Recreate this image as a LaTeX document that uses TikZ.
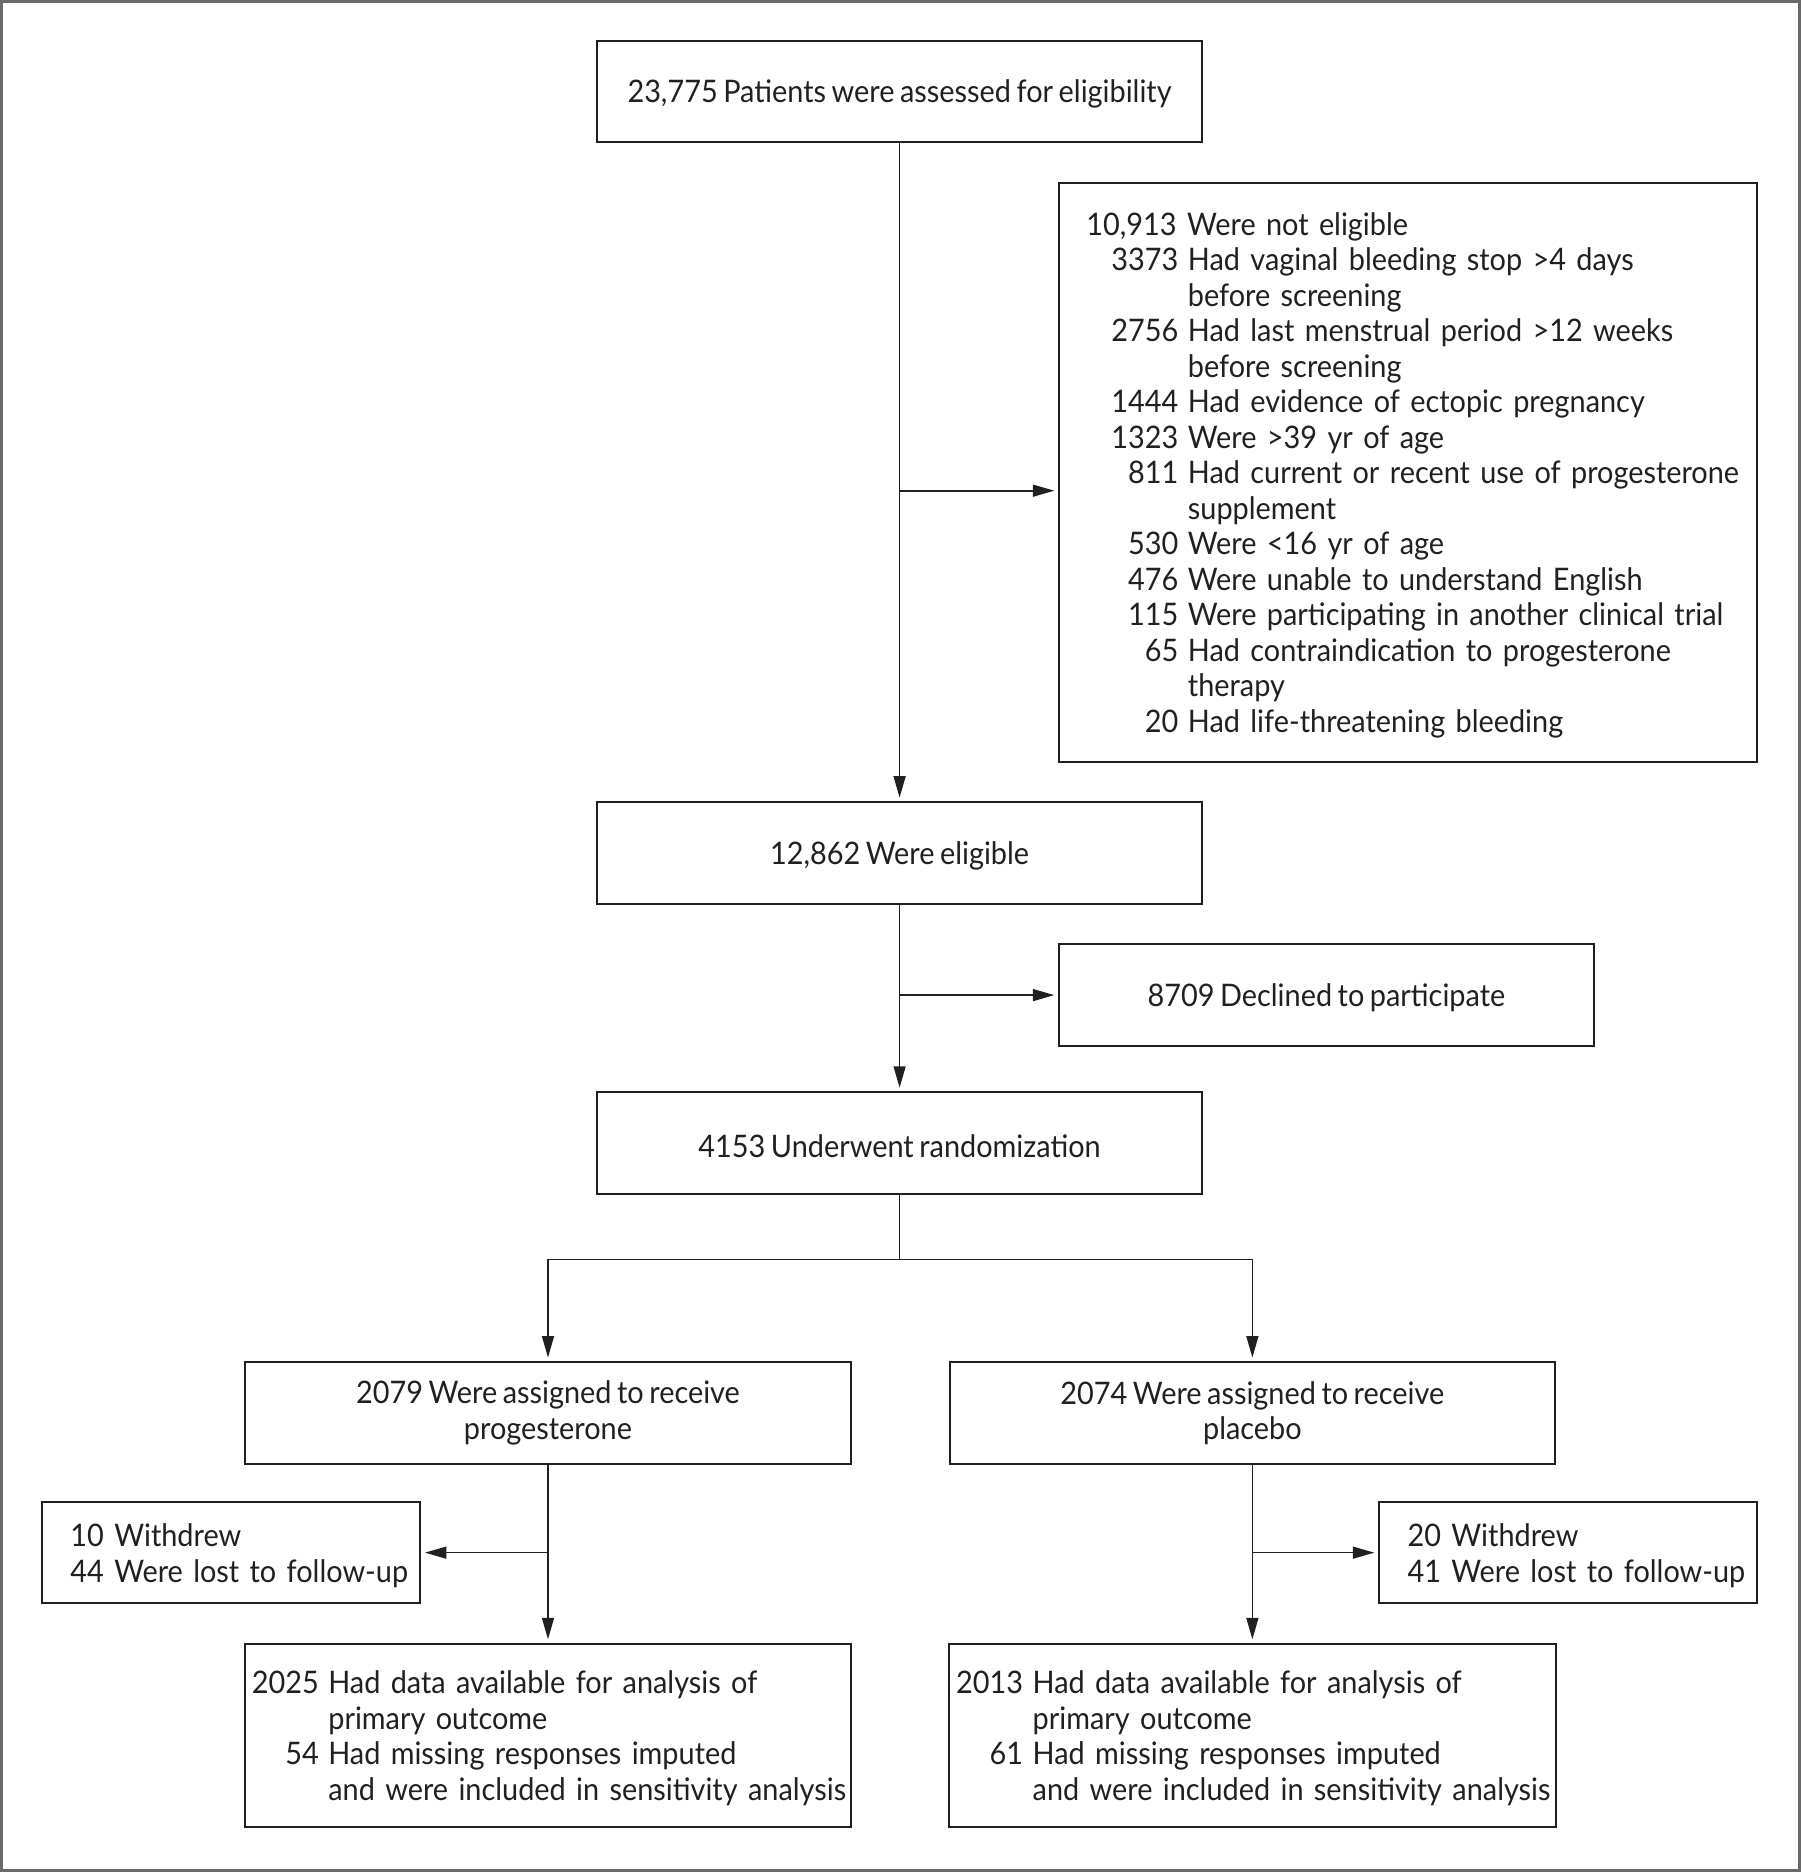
\documentclass[tikz,border=0pt]{standalone}
\usepackage{fontspec}
\setmainfont{Lato}[FakeStretch=0.93,WordSpace=0.75]
\usetikzlibrary{arrows.meta}
\newcommand{\nitem}[2]{\mbox{\makebox[38.5pt][r]{#1}\hspace{4pt}#2}}
\newcommand{\ncont}[1]{\mbox{\hspace*{42.5pt}#1}}
\newcommand{\bitem}[2]{\mbox{\makebox[26pt][r]{#1}\hspace{4pt}#2}}
\newcommand{\bcont}[1]{\mbox{\hspace*{30pt}#1}}
\definecolor{ink}{HTML}{231F20}
\definecolor{framegray}{HTML}{6A6A6A}
\begin{document}
\begin{tikzpicture}[x=0.5pt,y=-0.5pt,
  box/.style={draw=ink, line width=0.9pt, text=ink, font=\fontsize{13}{14.86}\selectfont, inner sep=0pt,
    execute at begin node={\rule{0pt}{12pt}}},
  cbox/.style={box, align=center, minimum width=253.5pt, minimum height=42.5pt},
  lbox/.style={box, align=left},
  ln/.style={draw=ink, line width=0.7pt},
  arr/.style={ln, -{Triangle[length=9pt,width=5pt]}, shorten >=1.5pt}]
\useasboundingbox (0,0) rectangle (1508,1568);
\draw[framegray, line width=2.4pt] (0,0) rectangle (1508,1568);

\node[cbox] (assess) at (753.5,76.5) {23,775 Patients were assessed for eligibility};
\node[lbox, text width=269.5pt, inner xsep=11.5pt, minimum height=242.5pt] (ne) at (1179.5,395.5) {%
\mbox{10,913 Were not eligible}\\
\nitem{3373}{Had vaginal bleeding stop >4 days}\\
\ncont{before screening}\\
\nitem{2756}{Had last menstrual period >12 weeks}\\
\ncont{before screening}\\
\nitem{1444}{Had evidence of ectopic pregnancy}\\
\nitem{1323}{Were >39 yr of age}\\
\nitem{811}{Had current or recent use of progesterone}\\
\ncont{supplement}\\
\nitem{530}{Were <16 yr of age}\\
\nitem{476}{Were unable to understand English}\\
\nitem{115}{Were participating in another clinical trial}\\
\nitem{65}{Had contraindication to progesterone}\\
\ncont{therapy}\\
\nitem{20}{Had life-threatening bleeding}};
\node[cbox] (elig) at (753.5,714.5) {12,862 Were eligible};
\node[cbox, minimum width=224pt] (decl) at (1111,833.5) {8709 Declined to participate};
\node[cbox] (rand) at (753.5,957.5) {4153 Underwent randomization};
\node[cbox] (prog) at (459,1183.5) {2079 Were assigned to receive\\progesterone};
\node[cbox] (plac) at (1049,1183.5) {2074 Were assigned to receive\\placebo};
\node[lbox, text width=134.5pt, inner xsep=12pt, minimum height=42.5pt] (wl) at (193.5,1300.5) {%
\mbox{10 Withdrew}\\\mbox{44 Were lost to follow-up}};
\node[lbox, text width=134.5pt, inner xsep=12pt, minimum height=42.5pt] (wr) at (1313.5,1300.5) {%
\mbox{20 Withdrew}\\\mbox{41 Were lost to follow-up}};
\node[lbox, text width=244pt, inner xsep=5pt, minimum height=76.5pt] (pd) at (459,1453.5) {%
\bitem{2025}{Had data available for analysis of}\\
\bcont{primary outcome}\\
\bitem{54}{Had missing responses imputed}\\
\bcont{and were included in sensitivity analysis}};
\node[lbox, text width=244pt, inner xsep=5pt, minimum height=76.5pt] (cd) at (1049,1453.5) {%
\bitem{2013}{Had data available for analysis of}\\
\bcont{primary outcome}\\
\bitem{61}{Had missing responses imputed}\\
\bcont{and were included in sensitivity analysis}};

\coordinate (b1) at (753.5,411);
\coordinate (b2) at (753.5,833.5);
\coordinate (split) at (753.5,1055);
\coordinate (b3) at (459,1300.5);
\coordinate (b4) at (1049,1300.5);

\draw[arr] (assess.south) -- (elig.north);
\draw[arr] (b1) -- (b1 -| ne.west);
\draw[arr] (elig.south) -- (rand.north);
\draw[arr] (b2) -- (decl.west);
\draw[ln] (rand.south) -- (split);
\draw[arr] (split) -| (prog.north);
\draw[arr] (split) -| (plac.north);
\draw[arr] (prog.south) -- (pd.north);
\draw[arr] (b3) -- (wl.east);
\draw[arr] (plac.south) -- (cd.north);
\draw[arr] (b4) -- (wr.west);
\end{tikzpicture}
\end{document}
